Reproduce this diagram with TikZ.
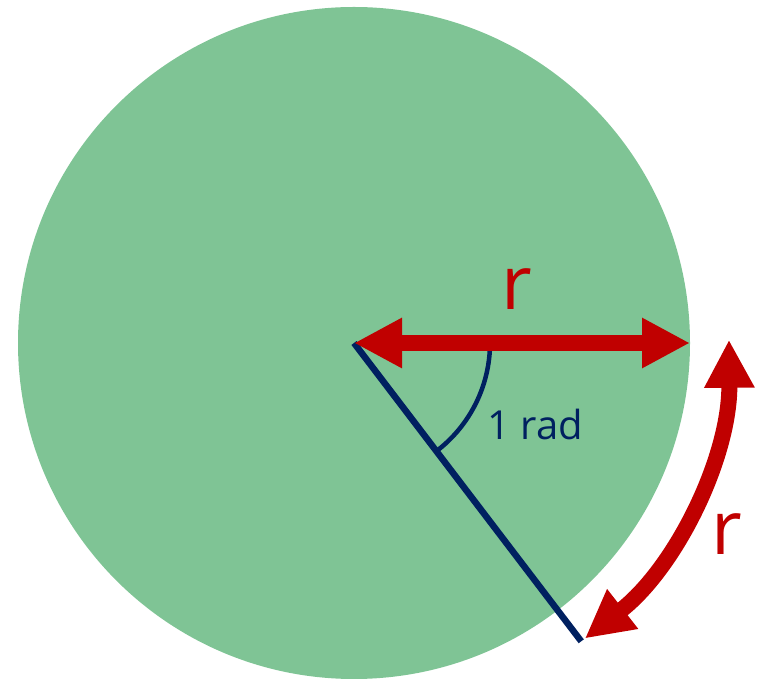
\documentclass[tikz,border=0pt]{standalone}
\usepackage{fontspec}
\setmainfont{Open Sans}
\usetikzlibrary{arrows.meta}
\definecolor{disc}{HTML}{7FC495}
\definecolor{darkred}{HTML}{C00000}
\definecolor{navy}{HTML}{002060}

\begin{document}
\begin{tikzpicture}[
    x=1pt, y=1pt,
    redarr/.style={{Triangle[length=48pt,width=47pt]}-{Triangle[length=48pt,width=47pt]}, line width=16pt, draw=darkred},
    lbl/.style={inner sep=0pt, anchor=base, text=darkred, font=\fontsize{75}{80}\selectfont}
]
\useasboundingbox (0,0) rectangle (763,680);
\coordinate (C) at (354,337);
\coordinate (tipH) at (690,337);
\fill[disc] (C) circle (336);

\draw[navy, line width=6.5pt] (C) -- ++(-52.7:375) coordinate (rimEnd);
\draw[navy, line width=4.5pt] (C) ++(136,0) arc[start angle=0, end angle=-52.7, radius=136];
\draw[redarr] (C) -- (tipH);
\draw[redarr] (C) ++(0.5:375) arc[start angle=0.5, end angle=-52, radius=375];

\node[lbl] (rTop) at (517,370) {r};
\node[lbl] (rArc) at (727,125) {r};
\node[lbl, text=navy, font=\fontsize{40}{44}\selectfont] (rad) at (535,240) {1 rad};
\end{tikzpicture}
\end{document}
